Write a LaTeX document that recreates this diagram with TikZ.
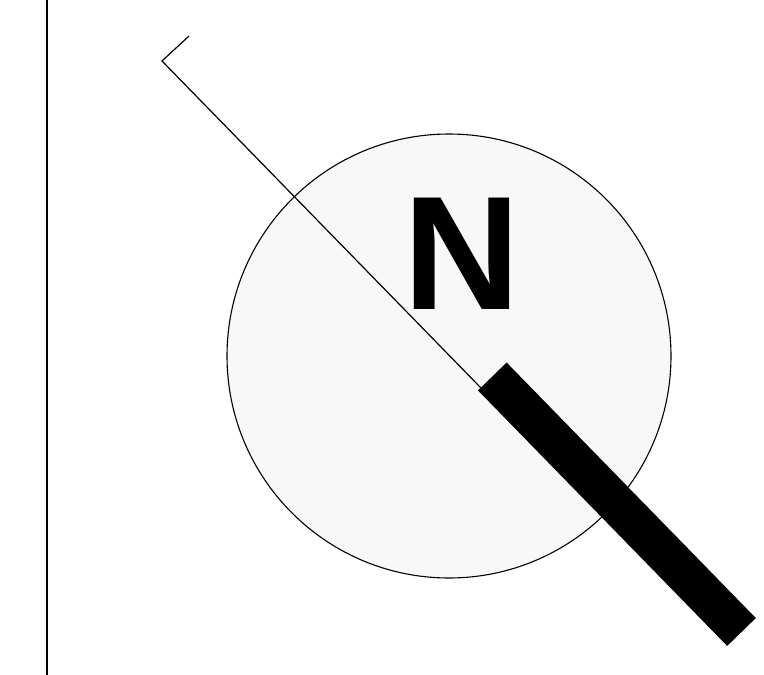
\documentclass[tikz,border=0pt]{standalone}
\usepackage{fontspec}
\setmainfont{Liberation Sans}
\begin{document}
\begin{tikzpicture}[x=1pt,y=-1pt,
  thinline/.style={draw=black,line width=1.2pt},
  bar/.style={draw=black,line width=40pt,line cap=butt}]
\useasboundingbox (0,0) rectangle (764,675);
\coordinate (vtop) at (46.5,0);
\coordinate (vbot) at (46.5,675);
\draw[line width=2pt] (vtop) -- (vbot);
\node[circle,draw=black,line width=1.1pt,fill={rgb,255:red,248;green,248;blue,248},minimum size=444pt,inner sep=0pt] (disc) at (449,356) {};
\node[font=\bfseries\fontsize{162}{162}\selectfont,inner sep=0pt,anchor=base] (N) at (461.5,309) {N};
\coordinate (hook) at (189,36);
\coordinate (tip) at (162,61);
\coordinate (tail) at (481,388);
\draw[thinline] (hook) -- (tip) -- (tail);
\coordinate (b1) at (492.3,376.5);
\coordinate (b2) at (741.5,632);
\draw[bar] (b1) -- (b2);
\end{tikzpicture}
\end{document}
